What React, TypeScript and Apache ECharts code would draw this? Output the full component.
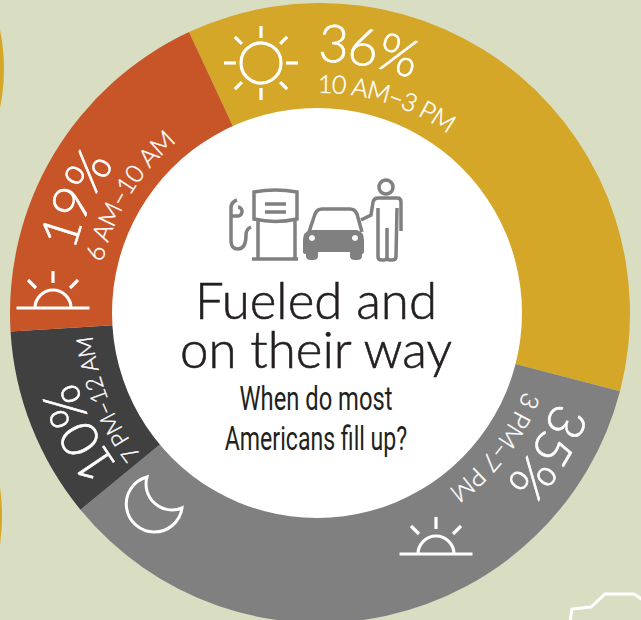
import React, { useEffect, useRef } from "react";
import * as echarts from "echarts";

const categories = ["10 AM–3 PM", "3 PM–7 PM", "7 PM–12 AM", "6 AM–10 AM"];
const values = [36, 35, 10, 19];
const percentLabels = ["36%", "35%", "10%", "19%"];
const sliceColors = ["#d4a729", "#808080", "#404040", "#c75528"];
const titleLines = ["Fueled and", "on their way"];
const subtitleLines = ["When do most", "Americans fill up?"];

const CX = 320;
const CY = 313;
const FONT = "Lato";

const SHAPES: Record<string, string> = {
  moon: "M147 477 A28 28 0 1 0 182 508 A26 26 0 0 1 147 477 Z",
  pump:
    "M254 192 Q275 188 297 192 L297 219 Q275 224 254 219 Z M258 221 L258 258 M295 221 L295 258 M252 259 L298 259 M265 204 L286 204 M265 212 L286 212 M251 227 Q246 229 246 235 Q246 249 238 249 Q231 249 231 241 L231 208 Q231 202 237 200 M238 207 A4.5 4.5 0 1 1 237 216 L232 216",
  carTop: "M309 232 L315 214 Q317 209 322 209 L350 209 Q355 209 357 214 L362 232",
  carBody:
    "M303 240 Q303 232 310 230 L357 230 Q364 232 364 240 L364 252 Q364 254 362 254 L362 256 Q362 260 357 260 L355 260 Q350 260 350 256 L350 252 L318 252 L318 256 Q318 260 313 260 L311 260 Q306 260 306 256 L306 254 Q303 254 303 252 Z",
  person:
    "M361 220 L371 215 L373 202 Q374 198 378 198 L397 198 Q401 198 401 202 L401 231 M378 208 L378 257 Q378 260 382 260 L384 260 Q387 260 387 257 L387 228 M397 208 L396 257 Q396 260 392 260 L390 260 Q387 260 387 257",
};
Object.keys(SHAPES).forEach((k) => {
  echarts.graphic.registerShape(k, (echarts.graphic as any).extendPath(SHAPES[k], {}));
});

const measure = (() => {
  const ctx = document.createElement("canvas").getContext("2d")!;
  return (s: string, size: number, weight: number) => {
    ctx.font = `${weight} ${size}px ${FONT}`;
    return ctx.measureText(s).width;
  };
})();

function arcText(text: string, r: number, midDeg: number, size: number, spacing = 0, thick = 0.4): any[] {
  const weight = 300;
  const total = measure(text, size, weight) + spacing * (text.length - 1);
  const out: any[] = [];
  for (let i = 0; i < text.length; i++) {
    const before = measure(text.slice(0, i), size, weight) + spacing * i;
    const w = measure(text[i], size, weight);
    const s = before + w / 2 - total / 2;
    const th = (midDeg * Math.PI) / 180 + s / r;
    const rc = r + 0.37 * size;
    out.push({
      type: "text",
      z: 10,
      x: CX + rc * Math.sin(th),
      y: CY - rc * Math.cos(th),
      rotation: -th,
      silent: true,
      style: {
        text: text[i],
        fill: "#ffffff",
        stroke: "#ffffff",
        lineWidth: thick,
        fontFamily: FONT,
        fontWeight: weight,
        fontSize: size,
        align: "center",
        verticalAlign: "middle",
      },
    });
  }
  return out;
}

const line = (x1: number, y1: number, x2: number, y2: number, stroke = "#fff", lineWidth = 3.2) => ({
  type: "line",
  z: 10,
  silent: true,
  shape: { x1, y1, x2, y2 },
  style: { stroke, lineWidth },
});

function sun(cx: number, cy: number) {
  const items: any[] = [
    { type: "circle", z: 10, silent: true, shape: { cx, cy, r: 20 }, style: { fill: "none", stroke: "#fff", lineWidth: 3.2 } },
  ];
  for (let a = 0; a < 8; a++) {
    const t = (a * Math.PI) / 4;
    const r1 = a % 2 ? 27 : 25;
    items.push(line(cx + r1 * Math.cos(t), cy + r1 * Math.sin(t), cx + 37 * Math.cos(t), cy + 37 * Math.sin(t)));
  }
  return items;
}

function horizon(cx: number, y: number, r: number) {
  return [
    line(cx - 36.5, y, cx + 36.5, y),
    {
      type: "arc",
      z: 10,
      silent: true,
      shape: { cx, cy: y, r, startAngle: Math.PI, endAngle: 0, clockwise: true },
      style: { fill: "none", stroke: "#fff", lineWidth: 3.2 },
    },
    line(cx, y - r - 7, cx, y - r - 19),
    line(cx - 17, y - r - 2, cx - 25, y - r - 10),
    line(cx + 17, y - r - 2, cx + 25, y - r - 10),
  ];
}

const shape = (type: string, style: any) => ({ type, z: 10, silent: true, x: 0, y: 0, style });

function centerText(text: string, x: number, y: number, size: number, family: string, weight: number, scaleX = 1, thick = 0) {
  return {
    type: "text",
    z: 10,
    silent: true,
    x,
    y,
    scaleX,
    style: {
      text,
      fill: "#231f20",
      stroke: thick ? "#231f20" : undefined,
      lineWidth: thick,
      fontFamily: family,
      fontWeight: weight,
      fontSize: size,
      lineHeight: size * 0.9,
      align: "center",
      verticalAlign: "middle",
    },
  };
}

export default function App() {
  const ref = useRef<HTMLDivElement>(null);
  useEffect(() => {
    const chart = echarts.init(ref.current!, undefined, { renderer: "svg" });
    const gray = { fill: "none", stroke: "#808080", lineWidth: 3.5 };
    chart.setOption({
      animation: false,
      backgroundColor: "#d9ddc2",
      series: [
        {
          type: "pie",
          silent: true,
          center: [CX, CY],
          radius: [195, 310],
          startAngle: 115,
          clockwise: true,
          label: { show: false },
          labelLine: { show: false },
          data: categories.map((name, i) => ({ name, value: values[i], itemStyle: { color: sliceColors[i] } })),
        },
      ],
      graphic: {
        elements: [
          { type: "circle", z: 5, silent: true, shape: { cx: 317, cy: 313, r: 205 }, style: { fill: "#ffffff" } },
          { type: "circle", z: 0, silent: true, shape: { cx: -188, cy: 69, r: 192 }, style: { fill: "#d4a729" } },
          { type: "circle", z: 0, silent: true, shape: { cx: -202, cy: 516, r: 204 }, style: { fill: "#d4a729" } },
          {
            type: "polyline",
            z: 0,
            silent: true,
            shape: { points: [[570, 622], [572, 609], [591, 607], [605, 594], [634, 594], [643, 600]] },
            style: { fill: "none", stroke: "#ffffff", lineWidth: 3 },
          },
          ...arcText(percentLabels[0], 252, 10.5, 52, -2, 0.6),
          ...arcText(categories[0], 221, 17.5, 25, -0.9),
          ...arcText(percentLabels[1], 252, 121.5, 52, -2, 0.6),
          ...arcText(categories[1], 219, 127.5, 25, -0.6),
          ...arcText(percentLabels[2], 254, 243.5, 52, -2, 0.6),
          ...arcText(categories[2], 229, 248, 23, -0.6),
          ...arcText(percentLabels[3], 254, 295, 52, -2, 0.6),
          ...arcText(categories[3], 224, 301.6, 25, -0.6),
          ...sun(261, 63),
          ...horizon(53, 308, 18),
          ...horizon(436, 554, 18),
          shape("moon", { fill: "none", stroke: "#fff", lineWidth: 3 }),
          shape("pump", gray),
          shape("carTop", gray),
          shape("carBody", { fill: "#808080" }),
          { type: "circle", z: 11, silent: true, shape: { cx: 312, cy: 238, r: 3 }, style: { fill: "#fff" } },
          { type: "circle", z: 11, silent: true, shape: { cx: 355, cy: 238, r: 3 }, style: { fill: "#fff" } },
          { type: "circle", z: 10, silent: true, shape: { cx: 386, cy: 187, r: 7 }, style: gray },
          shape("person", gray),
          centerText(titleLines[0], 316, 299, 51, FONT, 300, 1, 0.6),
          centerText(titleLines[1], 316, 348, 51, FONT, 300, 1, 0.6),
          centerText(subtitleLines[0], 316, 399, 33, "Roboto", 400, 0.72),
          centerText(subtitleLines[1], 316, 439, 33, "Roboto", 400, 0.7),
        ],
      },
    });
    return () => chart.dispose();
  }, []);
  return <div ref={ref} style={{ position: "fixed", left: 0, top: 0, width: 641, height: 620 }} />;
}
